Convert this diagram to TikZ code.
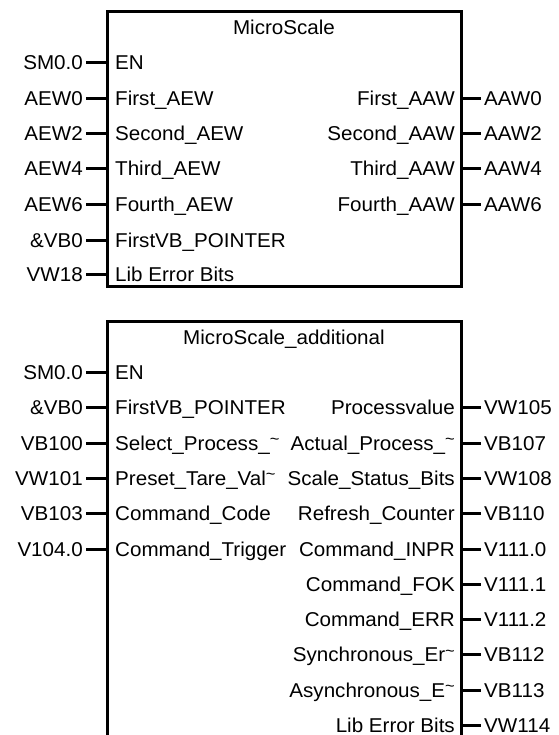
\documentclass[tikz,border=0pt]{standalone}
\usepackage{fontspec}
\setmainfont{Liberation Sans}[FakeStretch=1.03]
\newcommand{\tld}{\raisebox{0.28em}{\fontsize{16}{16}\selectfont\textasciitilde}}
\begin{document}
\begin{tikzpicture}[x=1pt,y=-1pt,
  lbl/.style={font=\fontsize{20}{24}\selectfont, inner sep=0pt, text=black, text depth=0pt},
  box/.style={line width=3pt, draw=black, line join=miter},
  pin/.style={line width=3pt, draw=black}]
\useasboundingbox[fill=white] (0,0) rectangle (558,735);
% ---------- Box 1 ----------
\draw[box] (107,12) rectangle (461,286);
\node[lbl, anchor=base] (t1) at (284,35) {MicroScale};
\foreach \y/\outer/\inner [count=\i] in {
  63/SM0.0/EN,
  98.5/AEW0/First\_AEW,
  134/AEW2/Second\_AEW,
  169/AEW4/Third\_AEW,
  204.5/AEW6/Fourth\_AEW,
  240/\&VB0/FirstVB\_POINTER,
  274.5/VW18/Lib Error Bits}{
  \coordinate (ai\i) at (107,\y);
  \coordinate (as\i) at (86,\y);
  \node[lbl, anchor=base east] (aiv\i) at (83,\y+7) {\outer};
  \node[lbl, anchor=base west] (ain\i) at (115,\y+7) {\inner};
  \draw[pin] (as\i) -- (ai\i);
}
\foreach \y/\inner/\outer [count=\i] in {
  98.5/First\_AAW/AAW0,
  134/Second\_AAW/AAW2,
  169/Third\_AAW/AAW4,
  204.5/Fourth\_AAW/AAW6}{
  \coordinate (ao\i) at (461,\y);
  \coordinate (aos\i) at (481,\y);
  \node[lbl, anchor=base east] (aon\i) at (455,\y+7) {\inner};
  \node[lbl, anchor=base west] (aov\i) at (484,\y+7) {\outer};
  \draw[pin] (ao\i) -- (aos\i);
}
% ---------- Box 2 ----------
\draw[box] (107,736) -- (107,321) -- (461,321) -- (461,736);
\node[lbl, anchor=base] (t2) at (284,344) {MicroScale\_additional};
\foreach \y/\outer/\inner [count=\i] in {
  372.5/SM0.0/EN,
  407.8/\&VB0/FirstVB\_POINTER,
  443.1/VB100/Select\_Process\_\tld,
  478.4/VW101/Preset\_Tare\_Val\tld,
  513.7/VB103/Command\_Code,
  549/V104.0/Command\_Trigger}{
  \coordinate (bi\i) at (107,\y);
  \coordinate (bs\i) at (86,\y);
  \node[lbl, anchor=base east] (biv\i) at (83,\y+7) {\outer};
  \node[lbl, anchor=base west] (bin\i) at (115,\y+7) {\inner};
  \draw[pin] (bs\i) -- (bi\i);
}
\foreach \y/\inner/\outer [count=\i] in {
  407.8/Processvalue/VW105,
  443.1/Actual\_Process\_\tld/VB107,
  478.4/Scale\_Status\_Bits/VW108,
  513.7/Refresh\_Counter/VB110,
  549/Command\_INPR/V111.0,
  584.3/Command\_FOK/V111.1,
  619.6/Command\_ERR/V111.2,
  654.9/Synchronous\_Er\tld/VB112,
  690.2/Asynchronous\_E\tld/VB113,
  725/Lib Error Bits/VW114}{
  \coordinate (bo\i) at (461,\y);
  \coordinate (bos\i) at (481,\y);
  \node[lbl, anchor=base east] (bon\i) at (455,\y+7) {\inner};
  \node[lbl, anchor=base west] (bov\i) at (484,\y+7) {\outer};
  \draw[pin] (bo\i) -- (bos\i);
}
\end{tikzpicture}
\end{document}
